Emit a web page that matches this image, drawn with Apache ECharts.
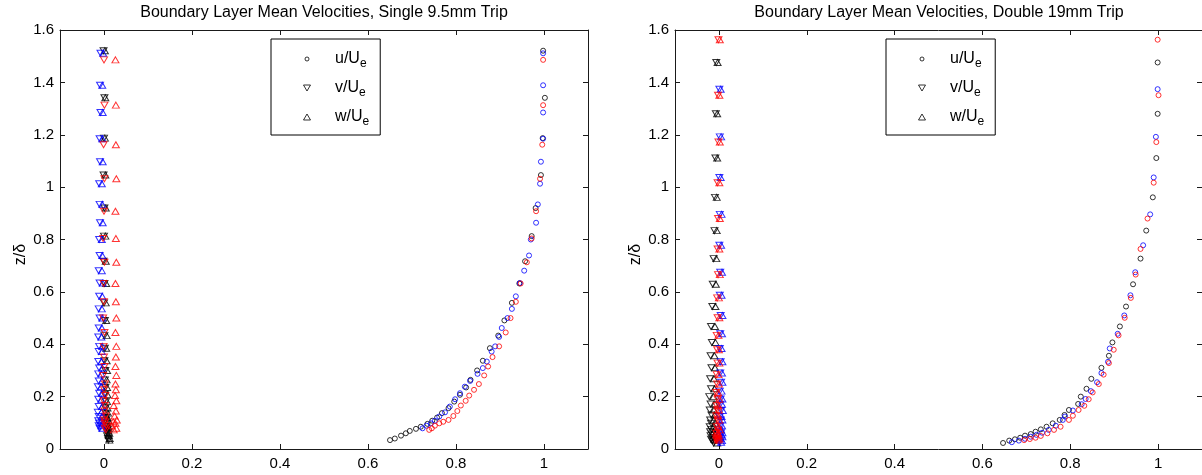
<!DOCTYPE html>
<html>
<head>
<meta charset="utf-8">
<script src="https://cdn.jsdelivr.net/npm/echarts@6/dist/echarts.min.js"></script>
<style>
html,body{margin:0;padding:0;background:#fff;}
#c{width:1202px;height:475px;}
</style>
</head>
<body>
<div id="c"></div>
<script>
// ---------- text ----------
const titles = ['Boundary Layer Mean Velocities, Single 9.5mm Trip', 'Boundary Layer Mean Velocities, Double 19mm Trip'];
const yName = 'z/\u03b4';
const legendNames = ['u/Ue', 'v/Ue', 'w/Ue'];
const xTicks = [0, 0.2, 0.4, 0.6, 0.8, 1];
const yTicks = [0, 0.2, 0.4, 0.6, 0.8, 1, 1.2, 1.4, 1.6];

// ---------- panel 1 : Single 9.5mm trip ----------
// black set
const s1BlackZ = [0.034,0.040,0.051,0.060,0.069,0.077,0.085,0.096,0.108,0.120,0.137,0.156,0.181,0.207,0.235,0.264,0.300,0.337,0.385,0.433,0.491,0.558,0.632,0.717,0.813,0.920,1.046,1.187,1.341,1.521];
const s1BlackU = [0.650,0.661,0.675,0.686,0.695,0.709,0.720,0.735,0.746,0.757,0.768,0.783,0.796,0.809,0.823,0.833,0.848,0.861,0.877,0.896,0.910,0.927,0.944,0.957,0.972,0.981,0.993,0.997,1.002,0.998];
const s1BlackV = [0.010,0.009,0.007,0.008,0.006,0.007,0.005,0.006,0.004,0.005,0.004,0.003,0.004,0.002,0.003,0.002,0.003,0.001,0.002,0.001,0.002,0.000,0.001,-0.001,0.000,0.001,-0.001,0.000,0.001,-0.001];
const s1BlackW = [0.012,0.013,0.011,0.012,0.010,0.011,0.010,0.009,0.010,0.008,0.009,0.008,0.007,0.008,0.007,0.006,0.007,0.006,0.005,0.006,0.005,0.004,0.005,0.004,0.003,0.004,0.003,0.002,0.003,0.002];
// blue set
const s1BlueZ = [0.079,0.089,0.098,0.108,0.124,0.140,0.162,0.190,0.213,0.238,0.260,0.287,0.309,0.334,0.372,0.392,0.428,0.462,0.500,0.535,0.583,0.634,0.681,0.739,0.800,0.864,0.934,1.013,1.097,1.185,1.285,1.389,1.511];
const s1BlueU = [0.724,0.733,0.743,0.752,0.762,0.775,0.786,0.798,0.809,0.820,0.832,0.849,0.861,0.870,0.881,0.889,0.898,0.904,0.917,0.927,0.936,0.945,0.955,0.966,0.970,0.982,0.986,0.991,0.993,0.998,0.998,0.998,0.998];
const s1BlueV = [-0.010,-0.012,-0.011,-0.013,-0.012,-0.014,-0.012,-0.013,-0.011,-0.014,-0.012,-0.013,-0.011,-0.013,-0.012,-0.011,-0.013,-0.012,-0.010,-0.012,-0.011,-0.010,-0.012,-0.010,-0.011,-0.009,-0.010,-0.011,-0.009,-0.010,-0.008,-0.009,-0.008];
const s1BlueW = [-0.004,-0.006,-0.005,-0.007,-0.005,-0.006,-0.004,-0.006,-0.005,-0.007,-0.005,-0.006,-0.004,-0.006,-0.005,-0.004,-0.006,-0.005,-0.004,-0.005,-0.004,-0.003,-0.005,-0.004,-0.005,-0.003,-0.004,-0.005,-0.003,-0.004,-0.003,-0.004,-0.002];
// red set
const s1RedZ = [0.073,0.079,0.089,0.098,0.104,0.111,0.126,0.145,0.166,0.184,0.204,0.226,0.248,0.281,0.315,0.351,0.392,0.445,0.500,0.562,0.632,0.713,0.804,0.908,1.032,1.162,1.313,1.486];
const s1RedU = [0.739,0.745,0.752,0.762,0.771,0.783,0.794,0.803,0.811,0.822,0.830,0.841,0.852,0.864,0.873,0.883,0.898,0.913,0.924,0.936,0.947,0.961,0.972,0.982,0.991,0.996,0.998,0.998];
const s1RedV = [0.004,0.002,0.005,0.001,0.003,0.000,0.004,0.001,0.002,-0.001,0.003,0.000,0.002,-0.002,0.001,0.000,-0.001,0.001,-0.002,0.000,-0.001,0.001,-0.002,0.000,0.001,-0.001,0.001,0.000];
const s1RedW = [0.022,0.028,0.018,0.026,0.021,0.029,0.024,0.027,0.022,0.028,0.025,0.027,0.026,0.028,0.026,0.027,0.028,0.026,0.028,0.027,0.026,0.028,0.027,0.026,0.028,0.027,0.027,0.026];

// ---------- panel 2 : Double 19mm trip ----------
const s2BlackZ = [0.023,0.032,0.037,0.043,0.051,0.057,0.066,0.075,0.085,0.098,0.111,0.130,0.149,0.172,0.200,0.230,0.268,0.310,0.356,0.407,0.468,0.544,0.629,0.727,0.834,0.961,1.111,1.280,1.476];
const s2BlackU = [0.647,0.661,0.674,0.686,0.697,0.710,0.721,0.733,0.746,0.760,0.776,0.787,0.797,0.818,0.824,0.837,0.848,0.871,0.888,0.896,0.913,0.927,0.943,0.960,0.973,0.988,0.996,0.999,0.999];
const s2BlackV = [-0.012,-0.015,-0.018,-0.014,-0.019,-0.016,-0.020,-0.017,-0.021,-0.018,-0.020,-0.017,-0.021,-0.019,-0.022,-0.018,-0.020,-0.017,-0.019,-0.016,-0.018,-0.015,-0.014,-0.012,-0.010,-0.009,-0.008,-0.007,-0.006];
const s2BlackW = [-0.004,-0.007,-0.010,-0.006,-0.011,-0.008,-0.012,-0.009,-0.011,-0.008,-0.012,-0.010,-0.011,-0.009,-0.012,-0.010,-0.011,-0.009,-0.010,-0.008,-0.009,-0.008,-0.007,-0.006,-0.005,-0.005,-0.004,-0.004,-0.003];
const s2BlueZ = [0.026,0.032,0.039,0.047,0.054,0.062,0.073,0.089,0.111,0.124,0.147,0.171,0.191,0.221,0.255,0.290,0.333,0.384,0.440,0.510,0.587,0.675,0.778,0.896,1.037,1.192,1.374];
const s2BlueU = [0.667,0.683,0.697,0.710,0.723,0.736,0.751,0.767,0.783,0.788,0.806,0.826,0.835,0.847,0.861,0.871,0.886,0.890,0.908,0.923,0.937,0.948,0.966,0.982,0.990,0.995,0.999];
const s2BlueV = [0.001,0.004,0.000,0.003,0.002,0.005,0.001,0.003,0.004,0.002,0.005,0.003,0.004,0.002,0.005,0.003,0.004,0.002,0.003,0.004,0.002,0.003,0.001,0.002,0.001,0.002,0.001];
const s2BlueW = [0.005,0.007,0.004,0.008,0.006,0.008,0.005,0.007,0.008,0.006,0.009,0.007,0.008,0.006,0.008,0.007,0.008,0.006,0.007,0.008,0.006,0.007,0.005,0.006,0.004,0.005,0.004];
const s2RedZ = [0.034,0.038,0.043,0.050,0.060,0.073,0.085,0.111,0.127,0.149,0.165,0.190,0.216,0.248,0.284,0.328,0.379,0.434,0.501,0.577,0.666,0.764,0.880,1.017,1.172,1.351,1.563];
const s2RedU = [0.695,0.708,0.721,0.733,0.748,0.763,0.778,0.797,0.806,0.819,0.832,0.842,0.851,0.865,0.876,0.888,0.899,0.910,0.924,0.938,0.949,0.960,0.976,0.990,0.996,1.001,0.999];
const s2RedV = [-0.006,-0.003,-0.007,-0.004,-0.006,-0.002,-0.005,-0.003,-0.006,-0.004,-0.005,-0.003,-0.006,-0.004,-0.005,-0.003,-0.004,-0.005,-0.003,-0.004,-0.002,-0.003,-0.002,-0.003,-0.001,-0.002,-0.001];
const s2RedW = [-0.002,0.001,-0.003,0.000,-0.002,0.002,-0.001,0.001,-0.002,0.000,-0.001,0.001,-0.002,0.000,-0.001,0.001,0.000,-0.001,0.001,0.000,0.002,0.001,0.002,0.001,0.002,0.001,0.002];

// ---------- build ----------
const FONT = '"Liberation Sans", Arial, Helvetica, sans-serif';
const AX = '#1a1a1a';
const DOWN_TRI = 'path://M0,0L7,0L3.5,6Z';
const UP_TRI = 'path://M3.5,0L7,6L0,6Z';
const legendIcons = [
  'path://M0,0M7,6M5.5,3A2,2,0,1,1,1.5,3A2,2,0,1,1,5.5,3Z',
  'path://M0,0L7,0L3.5,6Z',
  'path://M3.5,0L7,6L0,6Z'
];

const panels = [
  { sets: [
    {color:'#000000', z:s1BlackZ, u:s1BlackU, v:s1BlackV, w:s1BlackW, legend:true},
    {color:'#0000ff', z:s1BlueZ,  u:s1BlueU,  v:s1BlueV,  w:s1BlueW},
    {color:'#ff0000', z:s1RedZ,   u:s1RedU,   v:s1RedV,   w:s1RedW}
  ]},
  { sets: [
    {color:'#000000', z:s2BlackZ, u:s2BlackU, v:s2BlackV, w:s2BlackW, legend:true},
    {color:'#0000ff', z:s2BlueZ,  u:s2BlueU,  v:s2BlueV,  w:s2BlueW},
    {color:'#ff0000', z:s2RedZ,   u:s2RedU,   v:s2RedV,   w:s2RedW}
  ]}
];

const gridLefts = [60, 675];
const grids = gridLefts.map(l => ({left:l, top:30, width:528, height:419, containLabel:false}));

const xAxis = [], yAxis = [];
grids.forEach((g, gi) => {
  const tick = {show:true, inside:true, length:5, customValues:xTicks, lineStyle:{color:AX, width:1}};
  xAxis.push({type:'value', gridIndex:gi, min:-0.1, max:1.1, position:'bottom',
    axisLine:{show:true, onZero:false, lineStyle:{color:AX, width:1}},
    axisTick:tick,
    axisLabel:{show:true, customValues:xTicks, color:'#000', fontSize:15, fontFamily:FONT, margin:7},
    splitLine:{show:false}});
  xAxis.push({type:'value', gridIndex:gi, min:-0.1, max:1.1, position:'top',
    axisLine:{show:true, onZero:false, lineStyle:{color:AX, width:1}},
    axisTick:tick, axisLabel:{show:false}, splitLine:{show:false}});
  const ytick = {show:true, inside:true, length:5, customValues:yTicks, lineStyle:{color:AX, width:1}};
  yAxis.push({type:'value', gridIndex:gi, min:0, max:1.6, position:'left',
    name:yName, nameLocation:'middle', nameGap:31,
    nameTextStyle:{fontSize:16, fontFamily:FONT, color:'#000', padding:[0, 30, 0, 0]},
    axisLine:{show:true, onZero:false, lineStyle:{color:AX, width:1}},
    axisTick:ytick,
    axisLabel:{show:true, customValues:yTicks, color:'#000', fontSize:15, fontFamily:FONT, margin:6},
    splitLine:{show:false}});
  yAxis.push({type:'value', gridIndex:gi, min:0, max:1.6, position:'right',
    axisLine:{show:true, onZero:false, lineStyle:{color:AX, width:1}},
    axisTick:ytick, axisLabel:{show:false}, splitLine:{show:false}});
});

const series = [];
panels.forEach((p, pi) => {
  p.sets.forEach((s, si) => {
    const comps = [
      {key:'u', symbol:'circle', size:5},
      {key:'v', symbol:DOWN_TRI, size:[7,6]},
      {key:'w', symbol:UP_TRI, size:[7,6]}
    ];
    comps.forEach((c, ci) => {
      series.push({
        type:'scatter',
        name: s.legend ? legendNames[ci] : (c.key + '-' + pi + '-' + si),
        xAxisIndex: pi*2, yAxisIndex: pi*2,
        symbol:c.symbol, symbolSize:c.size,
        itemStyle:{color:'rgba(0,0,0,0)', borderColor:s.color, borderWidth:1},
        emphasis:{disabled:true},
        data: s[c.key].map((x, i) => [x, s.z[i]])
      });
    });
  });
});

const legends = gridLefts.map(l => ({
  show:true, orient:'vertical', left:l+211, top:39,
  padding:[9, 11, 7, 32], itemGap:7, itemWidth:46, itemHeight:6,
  borderColor:'#000', borderWidth:1, backgroundColor:'#fff',
  selectedMode:false, symbolRotate:0,
  data: legendNames.map((n, i) => ({name:n, icon:legendIcons[i]})),
  itemStyle:{color:'rgba(0,0,0,0)', borderColor:'#000', borderWidth:1},
  formatter: n => '{t|' + n.slice(0,3) + '}{s|' + n.slice(3) + '}',
  textStyle:{fontFamily:FONT, color:'#000', fontSize:16,
    rich:{
      t:{fontSize:16, fontFamily:FONT, color:'#000', lineHeight:18},
      s:{fontSize:12, fontFamily:FONT, color:'#000', lineHeight:12, padding:[10,0,0,0]}
    }}
}));

const titleOpts = titles.map((t, i) => ({
  text:t, left:gridLefts[i]+264, top:5, textAlign:'center', padding:0,
  textStyle:{fontSize:16, fontWeight:'normal', fontFamily:FONT, color:'#000'}
}));

const chart = echarts.init(document.getElementById('c'), null, {renderer:'canvas'});
chart.setOption({
  animation:false,
  backgroundColor:'#fff',
  title:titleOpts,
  legend:legends,
  grid:grids,
  xAxis:xAxis,
  yAxis:yAxis,
  series:series
});
</script>
</body>
</html>
